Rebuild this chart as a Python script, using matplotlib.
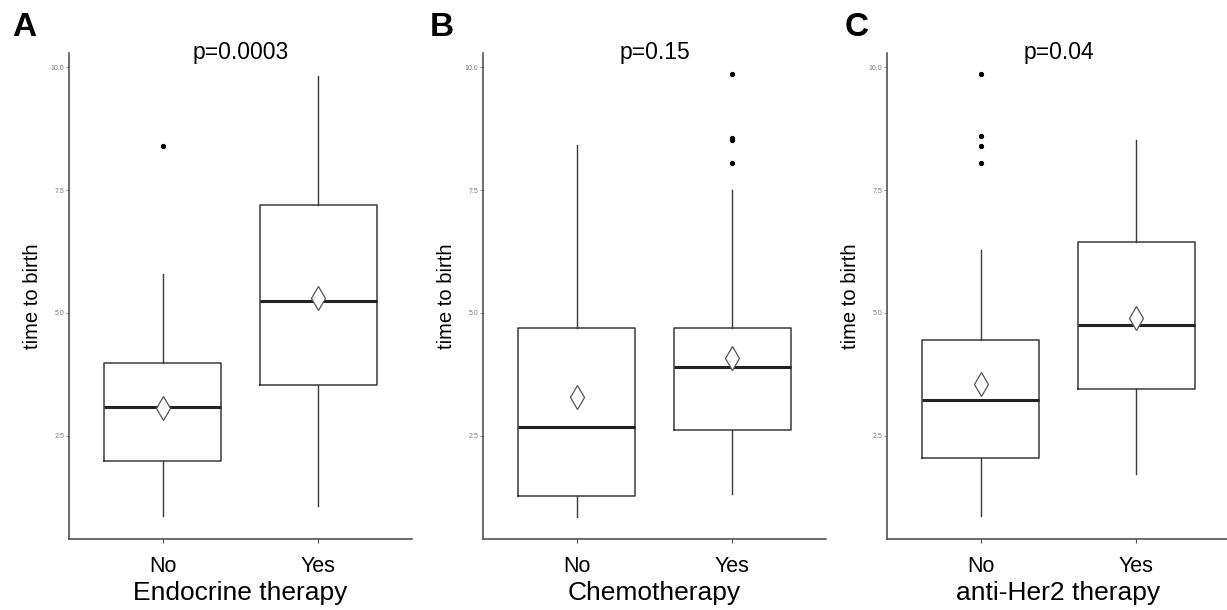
import matplotlib
matplotlib.use("Agg")
import matplotlib.pyplot as plt

plt.rcParams['font.family'] = ['Liberation Sans', 'DejaVu Sans']

# ---- data ----
panel_letters = ["A", "B", "C"]
pvalues = ["p=0.0003", "p=0.15", "p=0.04"]
xlabels = ["Endocrine therapy", "Chemotherapy", "anti-Her2 therapy"]
groups = ["No", "Yes"]

q1 = [[1.98, 3.53], [1.27, 2.61], [2.04, 3.46]]
medians = [[3.09, 5.24], [2.67, 3.89], [3.23, 4.75]]
q3 = [[3.99, 7.19], [4.70, 4.70], [4.45, 6.45]]
whisk_lo = [[0.87, 1.08], [0.85, 1.31], [0.87, 1.72]]
whisk_hi = [[5.79, 9.83], [8.41, 7.50], [6.29, 8.52]]
means = [[3.07, 5.30], [3.28, 4.09], [3.56, 4.90]]
outliers = [[[8.40], []],
            [[], [9.86, 8.56, 8.52, 8.06]],
            [[9.86, 8.60, 8.40, 8.06], []]]

yticks = [2.5, 5.0, 7.5, 10.0]
ylim = (0.40, 10.29)

W, H = 1227, 610
fig = plt.figure(figsize=(W / 100, H / 100), dpi=100)

ax_left_px = [69, 483, 887]
ax_w_px = 343
ax_bottom_px = 539
ax_top_px = 53

edge = "#3a3a3a"
for i in range(3):
    ax = fig.add_axes([ax_left_px[i] / W, (H - ax_bottom_px) / H,
                       ax_w_px / W, (ax_bottom_px - ax_top_px) / H])
    stats = []
    for j in range(2):
        stats.append(dict(med=medians[i][j], q1=q1[i][j], q3=q3[i][j],
                          whislo=whisk_lo[i][j], whishi=whisk_hi[i][j],
                          mean=means[i][j], fliers=outliers[i][j]))
    ax.bxp(stats, positions=[1, 2], widths=0.75, showcaps=False,
           showmeans=True, patch_artist=False,
           boxprops=dict(color=edge, linewidth=1.1),
           whiskerprops=dict(color=edge, linewidth=1.0),
           medianprops=dict(color="#222222", linewidth=2.2),
           meanprops=dict(marker="d", markerfacecolor="white",
                          markeredgecolor="#555555", markersize=12,
                          markeredgewidth=0.9),
           flierprops=dict(marker="o", markerfacecolor="black",
                           markeredgecolor="black", markersize=2.8))
    ax.set_xlim(0.4, 2.6)
    ax.set_ylim(*ylim)
    ax.set_xticks([1, 2])
    ax.set_xticklabels(groups, fontsize=15.5)
    ax.set_yticks(yticks)
    ax.set_yticklabels(["%.1f" % v for v in yticks], fontsize=5, color="#777777")
    ax.tick_params(axis="y", length=2.5, width=0.6, colors="#777777", pad=1)
    ax.tick_params(axis="y", labelcolor="#777777")
    ax.tick_params(axis="x", length=3, width=0.8, colors="#555555", pad=9,
                   labelcolor="black")
    for s in ["top", "right"]:
        ax.spines[s].set_visible(False)
    for s in ["left", "bottom"]:
        ax.spines[s].set_color("#444444")
        ax.spines[s].set_linewidth(1.1)
    ax.set_ylabel("time to birth", fontsize=14.5)
    ax.yaxis.set_label_coords(-27 / ax_w_px, 0.5)
    ax.set_xlabel(xlabels[i], fontsize=19, labelpad=3)
    ax.text(0.5, 1.0, pvalues[i], transform=ax.transAxes, ha="center",
            va="center", fontsize=16.5)
    fig.text([12, 430, 845][i] / W, (H - 28) / H, panel_letters[i],
             fontsize=24, fontweight="bold", ha="left", va="center")

fig.savefig("out.png", dpi=100)
